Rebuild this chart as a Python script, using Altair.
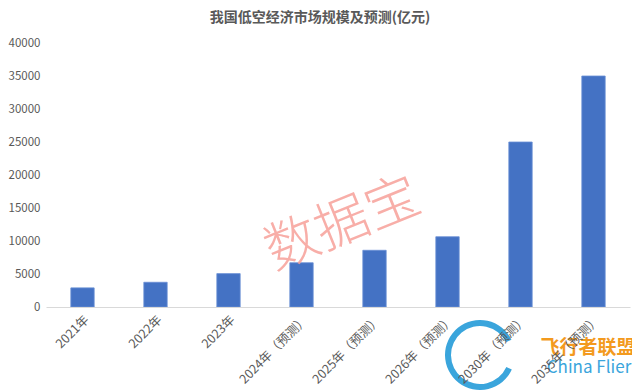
import altair as alt
import pandas as pd

categories = ["2021年", "2022年", "2023年", "2024年（预测）", "2025年（预测）",
              "2026年（预测）", "2030年（预测）", "2035年（预测）"]
values = [2900, 3750, 5059, 6702, 8592, 10645, 25000, 35000]

df = pd.DataFrame({"年份": categories, "规模": values})
FONT = "Noto Sans CJK SC"

bars = alt.Chart(df).mark_bar(color="#4472C4", stroke="#6a8fd6", strokeWidth=0.8).encode(
    x=alt.X("年份:N", sort=categories, title=None,
            scale=alt.Scale(paddingInner=0.68, paddingOuter=0.34),
            axis=alt.Axis(labelAngle=-45, ticks=False, domainColor="#d9d9d9",
                          labelColor="#595959", labelFont=FONT, labelFontSize=12.5,
                          labelPadding=6, zindex=1)),
    y=alt.Y("规模:Q", title=None,
            scale=alt.Scale(domain=[0, 40000]),
            axis=alt.Axis(values=list(range(0, 40001, 5000)), grid=False, domain=False,
                          ticks=False, labelColor="#595959", labelFont=FONT, format="d",
                          labelFontSize=11.5, labelPadding=6)),
)

wm = alt.Chart(pd.DataFrame({"t": ["数据宝"]})).mark_text(
    font=FONT, fontSize=54, color="#f7a099", opacity=0.85, angle=338,
    fontWeight=300
).encode(x=alt.value(297), y=alt.value(182), text="t:N")

ring = alt.Chart(pd.DataFrame({"t": [0]})).mark_arc(
    theta=2.0, theta2=7.4, radius=35, radius2=29, color="#3aa5dc"
).encode(x=alt.value(434), y=alt.value(312))

logo1 = alt.Chart(pd.DataFrame({"t": ["飞行者联盟"]})).mark_text(
    font=FONT, fontSize=19, fontWeight="bold", color="#f39a1e"
).encode(x=alt.value(542), y=alt.value(305), text="t:N")

logo2 = alt.Chart(pd.DataFrame({"t": ["China Flier"]})).mark_text(
    font=FONT, fontSize=17, color="#3aa5dc"
).encode(x=alt.value(543), y=alt.value(325), text="t:N")

chart = alt.layer(bars, wm, ring, logo1, logo2).properties(
    width=584, height=264,
    title=alt.TitleParams("我国低空经济市场规模及预测(亿元)", font=FONT, fontSize=14,
                          fontWeight="bold", color="#595959", offset=12, dx=-18),
    autosize=alt.AutoSizeParams(type="none"),
    padding={"left": 38, "top": 35, "right": 2, "bottom": 85},
).configure_view(stroke=None)

chart.save("out.html", embed_options={"renderer": "svg", "actions": False})
